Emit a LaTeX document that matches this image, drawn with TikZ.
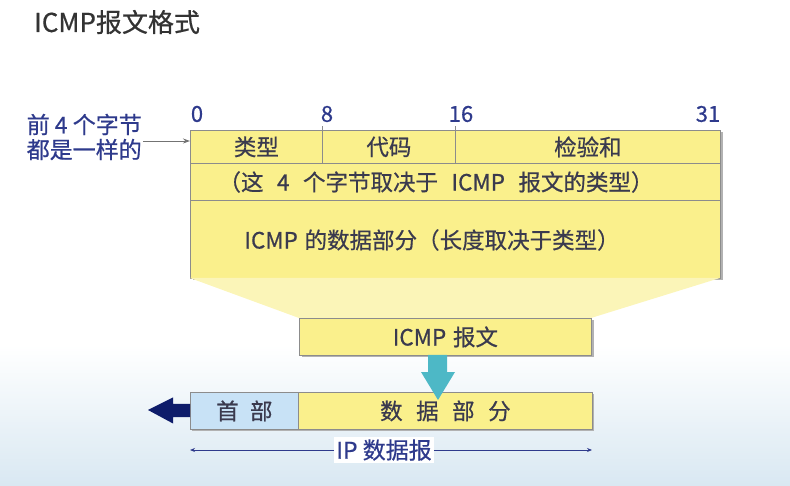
\documentclass[tikz,border=0pt]{standalone}
\usepackage{fontspec}
\setmainfont{Noto Sans CJK SC}[FakeBold=0.6]
\usetikzlibrary{arrows.meta}
\definecolor{cellyellow}{HTML}{FAF08C}
\definecolor{trapyellow}{HTML}{FBF5B8}
\definecolor{boxline}{HTML}{8C8C8C}
\definecolor{txt}{HTML}{3A3A4E}
\definecolor{navy}{HTML}{2E3A8C}
\definecolor{headblue}{HTML}{C8E2F6}
\definecolor{teal}{HTML}{4DB8C6}
\definecolor{darknavy}{HTML}{0E1C6A}
\definecolor{sky}{HTML}{D9E8F2}
\newcommand{\gap}{\hspace{0.6em}}
\newcommand{\thin}{\hspace{0.3em}}
\tikzset{
  cell/.style={draw=boxline, line width=0.8pt, fill=cellyellow, inner sep=0pt,
    anchor=north west, text=txt, font=\fontsize{22.5}{26}\selectfont},
  celltext/.style={text=txt, font=\fontsize{22.5}{26}\selectfont, inner sep=0pt},
  bitnum/.style={text=navy, font=\fontsize{22}{26}\selectfont, inner sep=0pt},
  shadowbox/.style={fill=black!30},
}
\begin{document}
\begin{tikzpicture}[x=1pt,y=-1pt]
\useasboundingbox (0,0) rectangle (790,486);
% pale sky towards the bottom
\shade[top color=white, bottom color=sky] (0,345) rectangle (790,486);

% title
\node[anchor=west, text=black!80, font=\fontsize{26}{30}\selectfont, inner sep=0pt] (title) at (34,22) {ICMP报文格式};

% header shadow
\fill[shadowbox] (192.5,132.5) rectangle (722.5,280.5);

% ICMP header and data
\node[cell, minimum width=132pt, minimum height=33pt] (type) at (190,130) {类型};
\node[cell, minimum width=133pt, minimum height=33pt] (code) at (322,130) {代码};
\node[cell, minimum width=265pt, minimum height=33pt] (sum) at (455,130) {检验和};
\node[cell, minimum width=530pt, minimum height=37pt] (rest) at (190,163) {};
\node[cell, minimum width=530pt, minimum height=78pt] (data) at (190,200) {};
\node[celltext] (resttext) at (436,182) {（这\gap 4\gap 个字节取决于\gap ICMP\gap 报文的类型）};
\node[celltext] (datatext) at (432,240) {ICMP\thin 的数据部分（长度取决于类型）};

% bit positions
\draw[boxline, line width=0.8pt] (code.north west) -- ++(0,-4);
\draw[boxline, line width=0.8pt] (sum.north west) -- ++(0,-4);
\node[bitnum] (b0) at (197,114) {0};
\node[bitnum] (b8) at (327,114) {8};
\node[bitnum] (b16) at (461,114) {16};
\node[bitnum] (b31) at (708,114) {31};

% side note
\node[text=navy, font=\fontsize{23}{25}\selectfont, align=left, inner sep=0pt, anchor=east] (note) at (142,137) {前 4 个字节\\都是一样的};
\coordinate (noteend) at (143,141);
\draw[-{Stealth[length=7pt,width=5pt]}, black!55, line width=0.9pt] (noteend) -- (type.west |- noteend);

% ICMP message box and funnel
\fill[trapyellow] (190,278) -- (720,278) -- (591,318) -- (299,318) -- cycle;
\fill[shadowbox] (301.5,320.5) rectangle (593.5,357.5);
\node[cell, minimum width=292pt, minimum height=37pt] (msg) at (299,318) {ICMP\thin 报文};

% IP datagram
\fill[shadowbox] (192,394) rectangle (594,431);
\node[cell, fill=headblue, minimum width=108pt, minimum height=37pt] (hdr) at (190,392) {首\hspace{0.5em}部};
\node[cell, minimum width=294pt, minimum height=37pt] (ipdata) at (298,392) {数\gap 据\gap 部\gap 分};

% encapsulation arrow
\fill[teal] (428,355) -- (447,355) -- (447,372) -- (455,372) -- (438,400) -- (421,372) -- (428,372) -- cycle;

% header goes first
\fill[darknavy] (hdr.west) ++(0,-7) -- ++(-17,0) -- ++(0,-6.5) -- (148,410) -- (173,423.5) -- ++(0,-6.5) -- (190,417) -- cycle;

% datagram extent
\node[text=navy, font=\fontsize{23}{26}\selectfont, fill=white, inner sep=2pt] (iplabel) at (384,450) {IP 数据报};
\coordinate (ipl) at (190,450);
\coordinate (ipr) at (592,450);
\draw[-{Stealth[length=5pt,width=4pt]}, navy, line width=1pt] (iplabel.west) -- (ipl);
\draw[-{Stealth[length=5pt,width=4pt]}, navy, line width=1pt] (iplabel.east) -- (ipr);
\end{tikzpicture}
\end{document}
